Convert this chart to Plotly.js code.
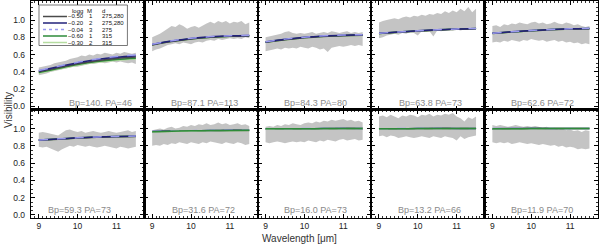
<!DOCTYPE html>
<html><head><meta charset="utf-8">
<script src="https://cdn.plot.ly/plotly-3.0.1.min.js"></script>
<style>html,body{margin:0;padding:0;background:#fff}#plot{width:600px;height:245px}</style>
</head><body><div id="plot"></div>
<script>
// ---------- data ----------
const wave = [9.0,9.1,9.2,9.3,9.4,9.5,9.6,9.7,9.8,9.9,10.0,10.1,10.2,10.3,10.4,10.5,10.6,10.7,10.8,10.9,11.0,11.1,11.2,11.3,11.4,11.5];
const modelWave = [9.0,9.5,10.0,10.5,11.0,11.5];
const xTickVals = [9,10,11];
const yTickVals = [0.0,0.2,0.4,0.6,0.8,1.0];

const loggLabels = ['\u22120.50','\u22120.20','\u22120.04','\u22120.60','\u22120.30'];
const massLabels = ['1','2','3','1','2'];
const distLabels = ['275,280','275,280','275','315','315'];

const baselines = ['140.','87.1','84.3','63.8','62.6','59.3','31.6','16.0','13.2','11.9'];
const posAngles = ['46','113','80','73','72','73','72','73','66','70'];

const panel1Upper = [0.45,0.46,0.47,0.48,0.50,0.51,0.52,0.53,0.55,0.56,0.57,0.59,0.58,0.60,0.59,0.61,0.60,0.62,0.61,0.60,0.62,0.61,0.63,0.62,0.61,0.62];
const panel1Lower = [0.36,0.37,0.38,0.40,0.41,0.42,0.43,0.44,0.45,0.46,0.46,0.47,0.48,0.49,0.49,0.50,0.51,0.50,0.51,0.52,0.51,0.52,0.51,0.50,0.51,0.49];
const panel1Models = [
  [0.400,0.448,0.494,0.530,0.556,0.572],
  [0.410,0.460,0.506,0.543,0.570,0.588],
  [0.415,0.465,0.512,0.550,0.578,0.596],
  [0.392,0.440,0.485,0.520,0.544,0.558],
  [0.385,0.432,0.477,0.512,0.536,0.550]];

const panel2Upper = [0.80,0.82,0.84,0.87,0.90,0.93,0.92,0.95,0.93,0.90,0.92,0.93,0.91,0.94,0.96,0.98,0.96,0.99,0.97,0.99,0.96,0.98,0.97,0.99,0.95,0.97];
const panel2Lower = [0.64,0.66,0.67,0.69,0.71,0.72,0.73,0.72,0.74,0.73,0.72,0.74,0.75,0.74,0.76,0.77,0.76,0.78,0.77,0.78,0.79,0.78,0.79,0.78,0.80,0.79];
const panel2Models = [
  [0.712,0.752,0.781,0.800,0.811,0.816],
  [0.718,0.758,0.787,0.806,0.817,0.822],
  [0.720,0.760,0.789,0.808,0.819,0.824],
  [0.714,0.754,0.783,0.802,0.813,0.818],
  [0.710,0.750,0.779,0.798,0.809,0.814]];

const panel3Upper = [0.80,0.81,0.82,0.83,0.84,0.86,0.87,0.85,0.84,0.85,0.84,0.85,0.86,0.84,0.85,0.86,0.85,0.87,0.86,0.85,0.86,0.87,0.85,0.86,0.85,0.86];
const panel3Lower = [0.64,0.65,0.66,0.67,0.66,0.68,0.67,0.68,0.67,0.69,0.68,0.67,0.69,0.68,0.66,0.67,0.63,0.68,0.69,0.70,0.69,0.70,0.71,0.70,0.71,0.70];
const panel3Models = [
  [0.742,0.772,0.795,0.810,0.819,0.824],
  [0.747,0.777,0.800,0.815,0.824,0.829],
  [0.749,0.779,0.802,0.817,0.826,0.831],
  [0.744,0.774,0.797,0.812,0.821,0.826],
  [0.740,0.770,0.793,0.808,0.817,0.822]];

const panel4Upper = [0.97,0.99,1.00,1.01,1.02,1.01,1.03,1.04,1.03,1.05,1.04,1.06,1.05,1.07,1.06,1.08,1.07,1.10,1.08,1.11,1.09,1.13,1.10,1.15,1.09,1.13];
const panel4Lower = [0.79,0.80,0.82,0.83,0.84,0.83,0.85,0.84,0.86,0.85,0.82,0.87,0.86,0.87,0.81,0.88,0.87,0.88,0.89,0.88,0.89,0.88,0.89,0.90,0.89,0.90];
const panel4Models = [
  [0.843,0.858,0.872,0.884,0.893,0.899],
  [0.846,0.861,0.875,0.887,0.896,0.902],
  [0.847,0.862,0.876,0.888,0.897,0.903],
  [0.845,0.860,0.874,0.886,0.895,0.901],
  [0.842,0.857,0.871,0.883,0.892,0.898]];

const panel5Upper = [0.93,0.94,0.92,0.95,0.94,0.96,0.95,0.97,0.96,0.95,0.97,0.98,0.96,0.97,0.95,0.96,0.98,0.96,0.95,0.97,0.96,0.94,0.95,0.93,0.92,0.93];
const panel5Lower = [0.74,0.75,0.74,0.76,0.75,0.77,0.76,0.75,0.77,0.76,0.78,0.77,0.76,0.77,0.75,0.76,0.77,0.75,0.76,0.74,0.75,0.73,0.74,0.72,0.73,0.72];
const panel5Models = [
  [0.844,0.860,0.875,0.887,0.895,0.900],
  [0.847,0.863,0.878,0.890,0.898,0.903],
  [0.848,0.864,0.879,0.891,0.899,0.904],
  [0.846,0.862,0.877,0.889,0.897,0.902],
  [0.843,0.859,0.874,0.886,0.894,0.899]];

const panel6Upper = [0.95,0.96,0.95,0.94,0.93,0.92,0.95,0.98,0.99,0.97,0.96,0.97,0.95,0.96,0.97,0.96,0.95,0.96,0.97,0.96,0.95,0.96,0.97,0.98,0.96,0.97];
const panel6Lower = [0.79,0.78,0.79,0.77,0.75,0.73,0.76,0.78,0.80,0.79,0.81,0.80,0.79,0.80,0.79,0.78,0.79,0.80,0.79,0.78,0.77,0.79,0.78,0.77,0.78,0.79];
const panel6Models = [
  [0.864,0.877,0.889,0.899,0.905,0.909],
  [0.867,0.880,0.892,0.902,0.908,0.912],
  [0.868,0.881,0.893,0.903,0.909,0.913],
  [0.866,0.879,0.891,0.901,0.907,0.911],
  [0.863,0.876,0.888,0.898,0.904,0.908]];

const panel7Upper = [0.98,0.99,1.00,0.99,1.01,1.02,1.00,1.01,1.03,1.02,1.04,1.03,1.05,1.04,1.06,1.04,1.05,1.07,1.05,1.06,1.04,1.05,1.06,1.04,1.05,1.03];
const panel7Lower = [0.80,0.81,0.80,0.82,0.81,0.83,0.82,0.84,0.83,0.82,0.84,0.83,0.82,0.84,0.83,0.85,0.84,0.83,0.82,0.84,0.83,0.82,0.84,0.83,0.81,0.82];
const panel7Models = [
  [0.962,0.967,0.971,0.974,0.976,0.977],
  [0.965,0.970,0.974,0.977,0.979,0.980],
  [0.966,0.971,0.975,0.978,0.980,0.981],
  [0.964,0.969,0.973,0.976,0.978,0.979],
  [0.961,0.966,0.970,0.973,0.975,0.976]];

const panel8Upper = [1.02,1.03,1.02,1.04,1.03,1.05,1.04,1.06,1.05,1.04,1.06,1.07,1.06,1.08,1.07,1.09,1.08,1.10,1.09,1.10,1.11,1.09,1.10,1.08,1.09,1.07];
const panel8Lower = [0.84,0.83,0.84,0.85,0.84,0.83,0.84,0.85,0.84,0.85,0.84,0.86,0.85,0.84,0.86,0.85,0.87,0.86,0.85,0.87,0.88,0.86,0.87,0.88,0.86,0.87];
const panel8Models = [
  [0.996,0.997,0.998,0.998,0.999,0.999],
  [0.997,0.998,0.998,0.999,0.999,1.000],
  [0.997,0.998,0.999,0.999,1.000,1.000],
  [0.996,0.997,0.998,0.999,0.999,0.999],
  [0.995,0.996,0.997,0.998,0.998,0.999]];

const panel9Upper = [1.14,1.15,1.13,1.16,1.14,1.12,1.15,1.14,1.16,1.15,1.13,1.16,1.15,1.17,1.14,1.16,1.15,1.17,1.16,1.18,1.14,1.12,1.08,1.13,1.11,1.14];
const panel9Lower = [0.91,0.92,0.90,0.92,0.91,0.89,0.90,0.91,0.90,0.89,0.90,0.91,0.90,0.89,0.91,0.90,0.89,0.91,0.90,0.89,0.86,0.91,0.88,0.90,0.91,0.92];
const panel9Models = [
  [0.997,0.998,0.998,0.999,0.999,0.999],
  [0.998,0.998,0.999,0.999,1.000,1.000],
  [0.998,0.999,0.999,1.000,1.000,1.000],
  [0.997,0.998,0.999,0.999,0.999,1.000],
  [0.996,0.997,0.998,0.998,0.999,0.999]];

const panel10Upper = [1.04,1.03,1.04,1.03,1.02,1.03,1.04,1.03,1.02,1.03,1.02,1.03,1.02,1.01,1.02,1.00,1.01,0.99,1.00,0.98,0.99,0.97,0.98,0.96,0.98,0.97];
const panel10Lower = [0.84,0.83,0.84,0.83,0.84,0.82,0.83,0.84,0.83,0.82,0.83,0.82,0.81,0.82,0.81,0.80,0.81,0.79,0.80,0.78,0.79,0.78,0.76,0.77,0.76,0.77];
const panel10Models = [
  [0.998,0.998,0.999,0.999,0.999,1.000],
  [0.998,0.999,0.999,1.000,1.000,1.000],
  [0.999,0.999,1.000,1.000,1.000,1.000],
  [0.998,0.998,0.999,0.999,1.000,1.000],
  [0.997,0.998,0.998,0.999,0.999,0.999]];

// ---------- styling ----------
const uppers = [panel1Upper,panel2Upper,panel3Upper,panel4Upper,panel5Upper,panel6Upper,panel7Upper,panel8Upper,panel9Upper,panel10Upper];
const lowers = [panel1Lower,panel2Lower,panel3Lower,panel4Lower,panel5Lower,panel6Lower,panel7Lower,panel8Lower,panel9Lower,panel10Lower];
const models = [panel1Models,panel2Models,panel3Models,panel4Models,panel5Models,panel6Models,panel7Models,panel8Models,panel9Models,panel10Models];

const modelColors = ['#4a4a4a','#22227a','#9a9aee','#2e8b3a','#b5dca0'];
const modelDash = ['solid','solid','dash','solid','solid'];
const drawOrderTop = [4,3,0,1,2];
const drawOrderBottom = [0,1,2,4,3];
const labelShift = [13,3.5,1,3,1,-8,2,1,1.5,1];

const W = 600, H = 245, ML = 31, MR = 1.5, MT = 1, MB = 27;
const PW = W - ML - MR, PH = H - MT - MB;
const px = x => (x - ML) / PW;
const py = y => 1 - (y - MT) / PH;

const traces = [];
const layout = {
  width: W, height: H,
  margin: {l: ML, r: MR, t: MT, b: MB, pad: 0},
  paper_bgcolor: '#fff', plot_bgcolor: '#fff',
  showlegend: false,
  font: {family: 'Liberation Sans, Arial, sans-serif', size: 8.5, color: '#222'},
  annotations: [], shapes: []
};

for (let p = 0; p < 10; p++) {
  const row = Math.floor(p / 5), col = p % 5;
  const k = p + 1;
  const xa = 'x' + (k === 1 ? '' : k), ya = 'y' + (k === 1 ? '' : k);
  traces.push({
    x: wave.concat(wave.slice().reverse()),
    y: uppers[p].concat(lowers[p].slice().reverse()),
    xaxis: xa, yaxis: ya, type: 'scatter', mode: 'lines',
    fill: 'toself', fillcolor: '#c4c4c4', line: {width: 0, color: '#c4c4c4'},
    hoverinfo: 'skip'
  });
  const order = p >= 6 ? drawOrderBottom : drawOrderTop;
  for (const m of order) {
    traces.push({
      x: modelWave, y: models[p][m], xaxis: xa, yaxis: ya,
      type: 'scatter', mode: 'lines',
      line: {color: modelColors[m], width: 1.5, dash: modelDash[m], shape: 'spline'}
    });
  }
  layout['xaxis' + (k === 1 ? '' : k)] = {
    domain: [col * 0.2, (col + 1) * 0.2], anchor: ya,
    range: [8.8, 11.72], showgrid: false, zeroline: false,
    showline: true, linecolor: '#000', linewidth: 1.2, mirror: 'allticks',
    ticks: 'inside', ticklen: 4, tickcolor: '#000', tickwidth: 1,
    tickmode: 'array', tickvals: xTickVals, ticktext: xTickVals.map(String),
    minor: {ticks: 'inside', dtick: 0.1, tick0: 9, ticklen: 2, tickcolor: '#000', tickwidth: 0.8},
    showticklabels: row === 1, ticklabelstandoff: 0,
    tickfont: {size: 8.5, color: '#222'}
  };
  layout['yaxis' + (k === 1 ? '' : k)] = {
    domain: row === 0 ? [0.5, 1] : [0, 0.5], anchor: xa,
    range: [-0.035, 1.22], showgrid: false, zeroline: false,
    showline: true, linecolor: '#000', linewidth: 1.2, mirror: 'allticks',
    ticks: 'inside', ticklen: 4, tickcolor: '#000', tickwidth: 1,
    tickmode: 'array', tickvals: yTickVals, ticktext: yTickVals.map(v => v.toFixed(1)),
    minor: {ticks: 'inside', dtick: 0.05, tick0: 0, ticklen: 2, tickcolor: '#000', tickwidth: 0.8},
    showticklabels: col === 0, ticklabelstandoff: 3,
    tickfont: {size: 8.5, color: '#222'}
  };
  layout.annotations.push({
    xref: xa + ' domain', yref: ya + ' domain', x: 0.5, y: row === 0 ? 0.058 : 0.075,
    xanchor: 'center', yanchor: 'middle', xshift: labelShift[p], showarrow: false,
    text: 'Bp=' + baselines[p] + ' PA=' + posAngles[p],
    font: {size: 9, color: '#8a8a8a'}
  });
}

layout.annotations.push({
  xref: 'paper', yref: 'paper', x: px(300), y: py(239), xanchor: 'center', yanchor: 'middle',
  showarrow: false, text: 'Wavelength [\u03bcm]', font: {size: 10, color: '#333'}
});
layout.annotations.push({
  xref: 'paper', yref: 'paper', x: px(8), y: py(110), xanchor: 'center', yanchor: 'middle',
  showarrow: false, textangle: -90, text: 'Visibility', font: {size: 10, color: '#333'}
});

// legend box (panel 1)
layout.shapes.push({type: 'rect', xref: 'paper', yref: 'paper',
  x0: px(39), x1: px(127.5), y0: py(45.5), y1: py(5), line: {color: '#555', width: 0.8}, fillcolor: 'rgba(0,0,0,0)'});
const legFont = {size: 6, color: '#111', family: 'Liberation Sans, Arial, sans-serif'};
layout.annotations.push({xref:'paper',yref:'paper',x:px(78),y:py(11),xanchor:'center',yanchor:'middle',showarrow:false,text:'logg',font:legFont});
layout.annotations.push({xref:'paper',yref:'paper',x:px(90),y:py(11),xanchor:'center',yanchor:'middle',showarrow:false,text:'M',font:legFont});
layout.annotations.push({xref:'paper',yref:'paper',x:px(100.5),y:py(11),xanchor:'left',yanchor:'middle',showarrow:false,text:'d',font:legFont});
for (let m = 0; m < 5; m++) {
  const yy = 16.5 + m * 6.5;
  layout.shapes.push({type: 'line', xref: 'paper', yref: 'paper', x0: px(43), x1: px(67), y0: py(yy), y1: py(yy),
    line: {color: modelColors[m], width: 1.5, dash: modelDash[m] === 'dash' ? 'dot' : 'solid'}});
  layout.annotations.push({xref:'paper',yref:'paper',x:px(86),y:py(yy),xanchor:'right',yanchor:'middle',showarrow:false,text:loggLabels[m],font:legFont});
  layout.annotations.push({xref:'paper',yref:'paper',x:px(91),y:py(yy),xanchor:'center',yanchor:'middle',showarrow:false,text:massLabels[m],font:legFont});
  layout.annotations.push({xref:'paper',yref:'paper',x:px(100.5),y:py(yy),xanchor:'left',yanchor:'middle',showarrow:false,text:distLabels[m],font:legFont});
}

Plotly.newPlot('plot', traces, layout, {staticPlot: true, displayModeBar: false});
</script></body></html>
